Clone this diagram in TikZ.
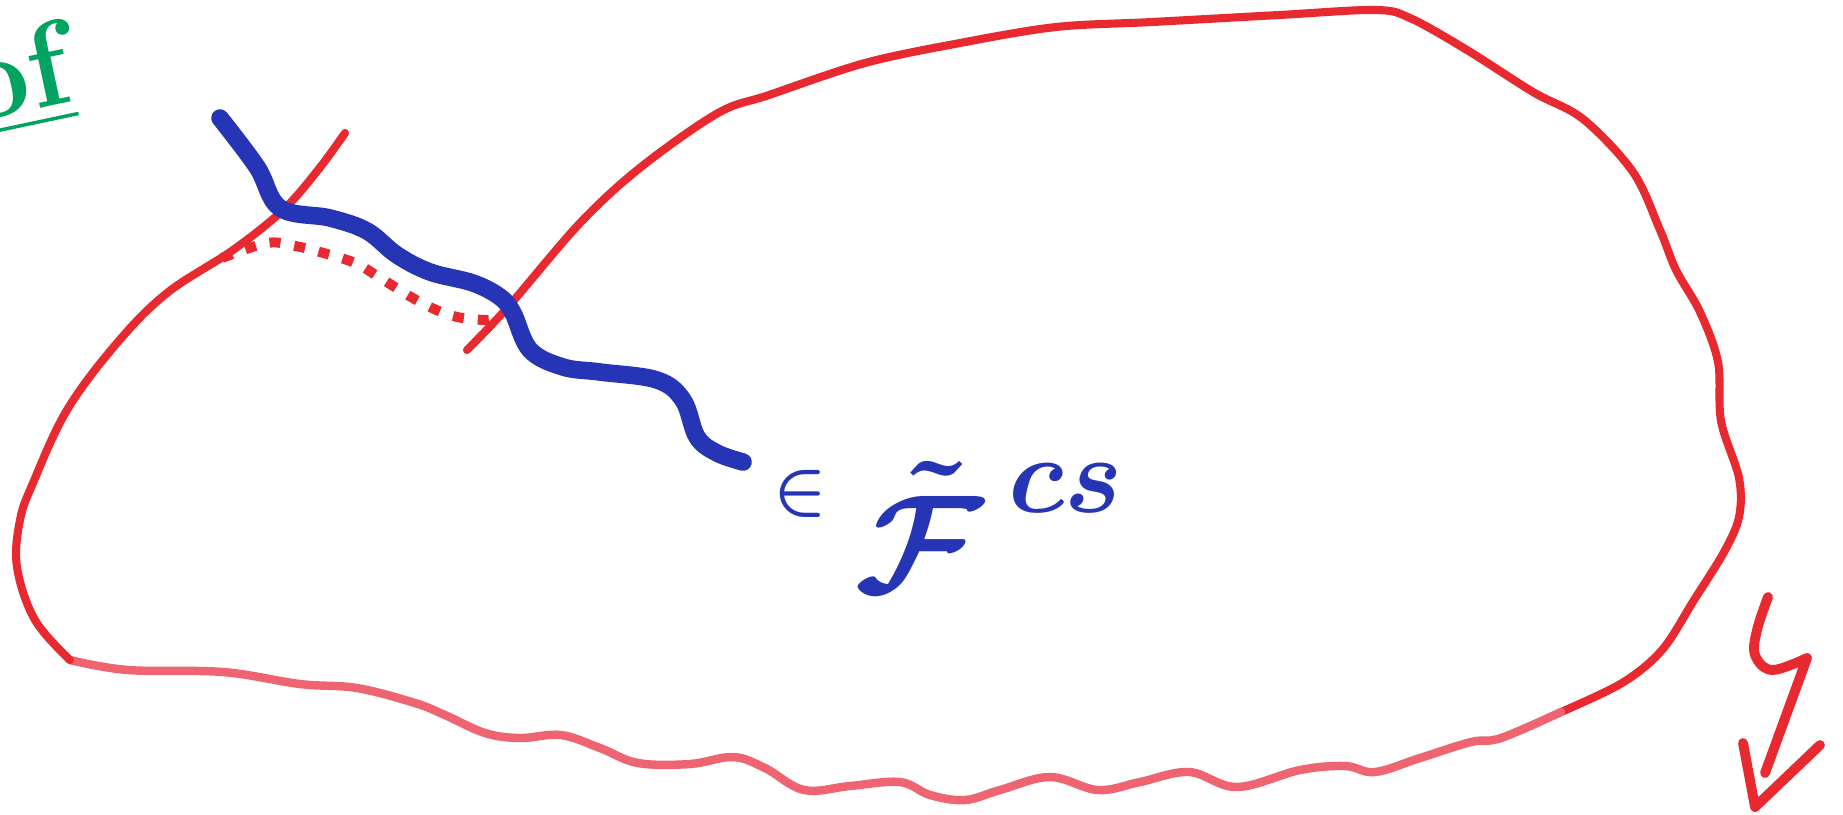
\documentclass[tikz,border=0pt]{standalone}
\usepackage{amsmath}
\usepackage{graphicx}

\definecolor{redink}{RGB}{232,42,48}
\definecolor{redpale}{RGB}{238,100,112}
\definecolor{blueink}{RGB}{38,52,182}
\definecolor{greenink}{RGB}{0,163,96}

\begin{document}
\begin{tikzpicture}[x=0.01cm, y=-0.01cm,
    blobline/.style={redink, line width=2.3pt, line cap=round, line join=round},
    paleline/.style={redpale, line width=2.4pt, line cap=round, line join=round},
    dotline/.style={redink, line width=1mm, dash pattern=on 1.1mm off 1.4mm},
    bluecurve/.style={blueink, line width=5pt, line cap=round, line join=round},
    signline/.style={redink, line width=2.8pt, line cap=round, line join=round},
    bluetext/.style={blueink, inner sep=0pt, font=\fontsize{44}{50}\selectfont\boldmath},
    greentext/.style={greenink, inner sep=0pt, font=\fontsize{34}{40}\selectfont\bfseries}]
  \useasboundingbox (0,0) rectangle (1843,814);

  % Region boundary: top and right side
  \draw[blobline] plot[smooth, tension=0.55] coordinates {
    (467,350) (508,307) (580,223) (641,167) (718,113) (769,95) (865,63)
    (960,43) (1056,27) (1152,22) (1279,15) (1375,10) (1410,18) (1467,50)
    (1533,92) (1583,119) (1633,172) (1660,230) (1676,270) (1700,312)
    (1718,362) (1721,421) (1739,478) (1739,517) (1724,552) (1694,600)
    (1662,650) (1622,683) (1561,712)};
  % Region boundary: wavy bottom
  \draw[paleline] plot[smooth, tension=0.6] coordinates {
    (1561,712) (1501,738) (1471,742) (1420,758) (1375,772) (1345,766)
    (1300,770) (1237,787) (1189,772) (1140,782) (1098,790) (1050,777)
    (1000,790) (965,800) (930,795) (900,782) (850,786) (804,790)
    (765,768) (733,757) (690,764) (638,763) (600,748) (561,735)
    (520,738) (485,733) (445,715) (415,703) (357,688) (300,684)
    (223,672) (128,670) (70,660)};
  % Region boundary: left side up to the top end
  \draw[blobline] plot[smooth, tension=0.6] coordinates {
    (70,660) (35,620) (17,567) (20,520) (33,483) (67,410) (117,343)
    (167,293) (233,250) (283,210) (318,170) (345,133)};

  % Dotted piece of the boundary behind the curve
  \draw[dotline] plot[smooth, tension=0.6] coordinates {
    (222,258) (267,243) (295,246) (320,252) (355,263) (382,279)
    (420,302) (453,316) (485,320) (500,318)};

  % Blue curve
  \draw[bluecurve] plot[smooth, tension=0.6] coordinates {
    (220,118) (257,167) (280,208) (330,218) (367,231) (397,255)
    (430,272) (473,283) (500,297) (513,313) (530,350) (563,367)
    (600,372) (657,380) (683,400) (697,437) (717,453) (743,462)};

  % Label of the curve
  \node[bluetext, anchor=base west] (member) at (773,592)
    {$\raisebox{0.8cm}{\scalebox{0.8}{$\in$}}\;\scalebox{1.6}{$\tilde{\mathcal{F}}$}^{\hspace{0.25cm}\raisebox{-0.18cm}{\scalebox{1.25}{$\scriptstyle cs$}}}$};

  % Partly visible note, top left
  \node[greentext, rotate=12] (note) at (16,80) {\underline{of}};

  % Arrow, bottom right
  \draw[signline] plot[smooth, tension=0.6] coordinates {
    (1768,597) (1757,630) (1755,655) (1772,670) (1807,658)} -- (1765,773);
  \draw[signline] (1743,743) -- (1755,807) -- (1820,745);
\end{tikzpicture}
\end{document}
